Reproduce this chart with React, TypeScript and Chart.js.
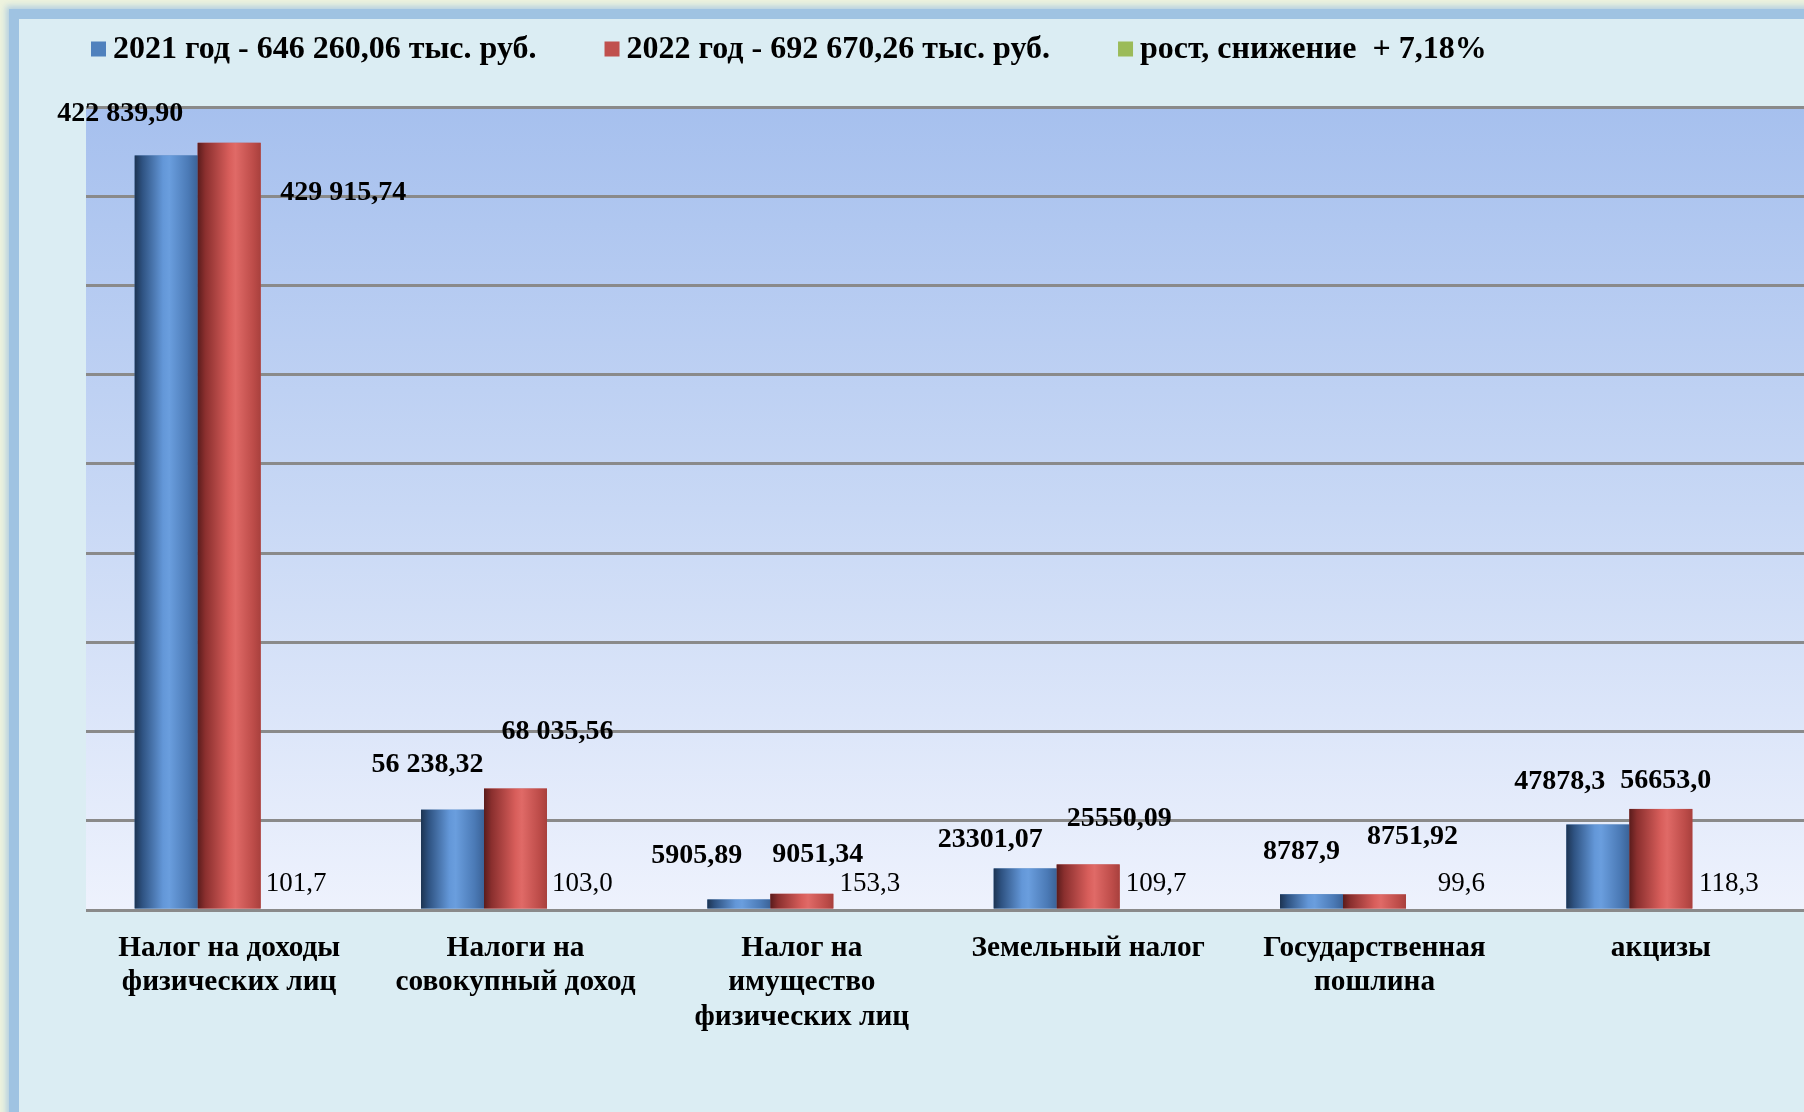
import React, { useEffect, useRef } from "react";
import { Chart, registerables } from "chart.js";

Chart.register(...registerables);

// ---------- data ----------
const categories: (string | string[])[] = [
  ["Налог на доходы", "физических лиц"],
  ["Налоги на", "совокупный доход"],
  ["Налог на", "имущество", "физических лиц"],
  "Земельный налог",
  ["Государственная", "пошлина"],
  "акцизы",
];
const seriesNames = [
  "2021 год - 646 260,06 тыс. руб.",
  "2022 год - 692 670,26 тыс. руб.",
  "рост, снижение  + 7,18%",
];
const values2021 = [422839.9, 56238.32, 5905.89, 23301.07, 8787.9, 47878.3];
const values2022 = [429915.74, 68035.56, 9051.34, 25550.09, 8751.92, 56653.0];
const growth = [101.7, 103.0, 153.3, 109.7, 99.6, 118.3];
const labels2021 = ["422 839,90", "56 238,32", "5905,89", "23301,07", "8787,9", "47878,3"];
const labels2022 = ["429 915,74", "68 035,56", "9051,34", "25550,09", "8751,92", "56653,0"];
const labelsGrowth = ["101,7", "103,0", "153,3", "109,7", "99,6", "118,3"];
const yMin = 0;
const yMax = 450000;
const yStep = 50000;

// ---------- style ----------
const FONT = "'Liberation Serif', 'Times New Roman', serif";
const seriesColors = ["#4f81bd", "#c0504d", "#9bbb59"];
// label offsets (dx, dy) relative to the top-centre of each bar
const offsets2021 = [[-46, -42], [-25, -45], [-42, -44], [-35, -29], [-10, -43], [-38, -43]];
const offsets2022 = [[114, 50], [42, -57], [16, -39], [31, -46], [38, -58], [5, -28]];
const offsetsGrowth = [[4, -26], [4, -26], [5, -26], [5, -26], [24, -26], [5, -26]];

const gradStops = [
  [
    [0, "#1d3452"],
    [0.12, "#2e5281"],
    [0.45, "#6397d8"],
    [0.55, "#6a9ede"],
    [0.85, "#4b7ab6"],
    [1, "#3b6398"],
  ],
  [
    [0, "#5a1c1c"],
    [0.12, "#8a2f2e"],
    [0.5, "#d85e5b"],
    [0.6, "#e06a67"],
    [0.88, "#bd4c49"],
    [1, "#a8403d"],
  ],
];

const plotBgPlugin = {
  id: "plotBg",
  beforeDraw(chart: any) {
    const { ctx, chartArea } = chart;
    const g = ctx.createLinearGradient(0, chartArea.top, 0, chartArea.bottom);
    g.addColorStop(0, "#a6c0ee");
    g.addColorStop(0.5, "#c8d8f5");
    g.addColorStop(1, "#eef2fd");
    ctx.save();
    ctx.fillStyle = g;
    ctx.fillRect(chartArea.left, chartArea.top, chartArea.right - chartArea.left, chartArea.bottom - chartArea.top);
    ctx.restore();
  },
};

const barsAndLabelsPlugin = {
  id: "barsAndLabels",
  afterDatasetsDraw(chart: any) {
    const ctx = chart.ctx;
    ctx.save();
    // cylinder-like shading of the library's bar elements
    [0, 1].forEach((di) => {
      const meta = chart.getDatasetMeta(di);
      meta.data.forEach((el: any) => {
        const left = el.x - el.width / 2;
        const g = ctx.createLinearGradient(left, 0, left + el.width, 0);
        gradStops[di].forEach(([o, c]: any) => g.addColorStop(o, c));
        ctx.fillStyle = g;
        ctx.fillRect(left, el.y, el.width, el.base - el.y);
      });
    });
    // value labels
    ctx.textAlign = "center";
    ctx.textBaseline = "middle";
    ctx.fillStyle = "#000";
    const sets = [
      { di: 0, texts: labels2021, offs: offsets2021, font: `bold 28px ${FONT}` },
      { di: 1, texts: labels2022, offs: offsets2022, font: `bold 28px ${FONT}` },
      { di: 2, texts: labelsGrowth, offs: offsetsGrowth, font: `27px ${FONT}` },
    ];
    sets.forEach((s) => {
      ctx.font = s.font;
      chart.getDatasetMeta(s.di).data.forEach((el: any, i: number) => {
        ctx.fillText(s.texts[i], el.x + s.offs[i][0], el.y + s.offs[i][1]);
      });
    });
    ctx.restore();
  },
};

const legendPlugin = {
  id: "customLegend",
  afterDraw(chart: any) {
    const ctx = chart.ctx;
    ctx.save();
    ctx.font = `bold 32px ${FONT}`;
    ctx.textBaseline = "middle";
    ctx.textAlign = "left";
    let x = 91;
    const yc = 50;
    const box = 15;
    chart.data.datasets.forEach((ds: any, i: number) => {
      ctx.fillStyle = seriesColors[i];
      ctx.fillRect(x, yc - box / 2 - 1, box, box);
      ctx.fillStyle = "#000";
      const tx = x + box + 7;
      ctx.fillText(ds.label, tx, yc);
      x = tx + ctx.measureText(ds.label).width + 68;
    });
    ctx.restore();
  },
};

export default function App() {
  const ref = useRef<HTMLCanvasElement | null>(null);

  useEffect(() => {
    if (!ref.current) return;
    const chart = new Chart(ref.current, {
      type: "bar",
      data: {
        labels: categories,
        datasets: [
          { label: seriesNames[0], data: values2021, backgroundColor: seriesColors[0] },
          { label: seriesNames[1], data: values2022, backgroundColor: seriesColors[1] },
          { label: seriesNames[2], data: growth, backgroundColor: "rgba(155,187,89,0)" },
        ],
      },
      options: {
        responsive: false,
        animation: false,
        events: [],
        layout: { padding: { left: 0, right: 0, top: 107, bottom: 0 } },
        datasets: { bar: { categoryPercentage: 0.66, barPercentage: 1.0 } },
        plugins: {
          legend: { display: false },
          tooltip: { enabled: false },
          title: { display: false },
        },
        scales: {
          x: {
            grid: { display: false, drawTicks: false },
            border: { display: false },
            ticks: {
              color: "#000",
              font: { family: FONT, size: 29.3, weight: "bold", lineHeight: 1.18 },
              padding: 21,
              maxRotation: 0,
              minRotation: 0,
              autoSkip: false,
            },
            afterFit: (s: any) => {
              s.height = 202;
            },
          },
          y: {
            min: yMin,
            max: yMax,
            ticks: { display: false, stepSize: yStep },
            grid: { color: "#8a8a8a", lineWidth: 3, drawTicks: false },
            border: { display: false },
            afterFit: (s: any) => {
              s.width = 86;
            },
          },
        },
      } as any,
      plugins: [plotBgPlugin, barsAndLabelsPlugin, legendPlugin],
    });
    return () => chart.destroy();
  }, []);

  return (
    <div
      style={{
        position: "fixed",
        left: 0,
        top: 0,
        width: 1804,
        height: 1112,
        overflow: "hidden",
        background: "#eef3de",
      }}
    >
      <div
        style={{
          position: "absolute",
          left: 9,
          top: 9,
          width: 1830,
          height: 1130,
          background: "#9fc3e2",
          boxShadow: "0 0 6px 3px rgba(159,195,226,0.75)",
        }}
      />
      <div
        style={{
          position: "absolute",
          left: 19,
          top: 19,
          width: 1830,
          height: 1130,
          background: "#dbedf3",
        }}
      />
      <canvas
        ref={ref}
        width={1804}
        height={1112}
        style={{ position: "absolute", left: 0, top: 0, display: "block" }}
      />
    </div>
  );
}
